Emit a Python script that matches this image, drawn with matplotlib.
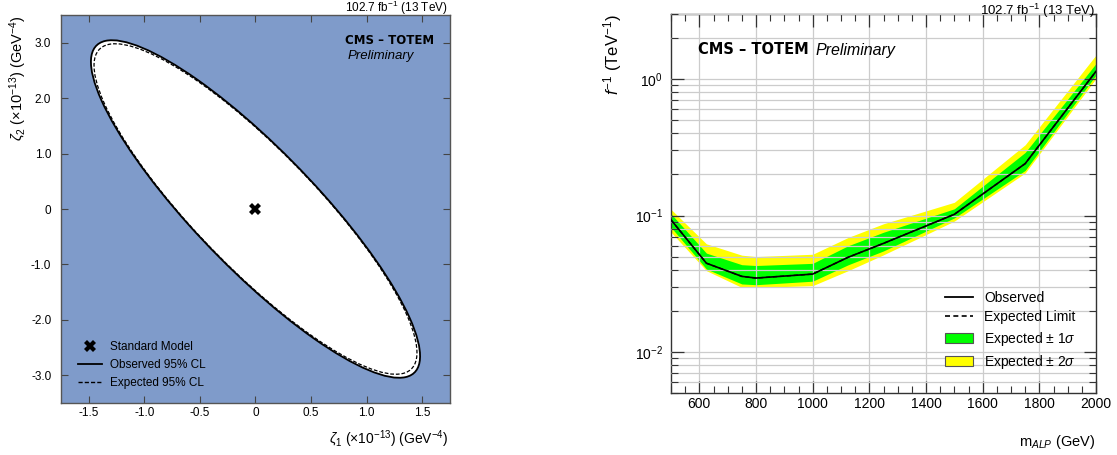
import matplotlib
matplotlib.use('Agg')
import matplotlib.pyplot as plt
from matplotlib.patches import Ellipse, Patch
from matplotlib.lines import Line2D
from matplotlib.ticker import MultipleLocator, FixedLocator, LogLocator, NullFormatter

plt.rcParams['font.family'] = ['Liberation Sans', 'DejaVu Sans']
plt.rcParams['mathtext.fontset'] = 'custom'
plt.rcParams['mathtext.rm'] = 'Liberation Sans'
plt.rcParams['mathtext.it'] = 'Liberation Sans:italic'
plt.rcParams['mathtext.bf'] = 'Liberation Sans:bold'
plt.rcParams['axes.unicode_minus'] = False

# ---------------- Left panel data: 95% CL contours (x 1e-13 GeV^-4) ----------------
sm_point = (0.0, 0.0)
obs_center = (0.0, 0.0)
obs_semi_major = 3.32
obs_semi_minor = 0.665
obs_angle_deg = 114.0
exp_center = (0.0, 0.0)
exp_semi_major = 3.25
exp_semi_minor = 0.66
exp_angle_deg = 114.0

zeta1_ticks = [-1.5, -1.0, -0.5, 0.0, 0.5, 1.0, 1.5]
zeta1_labels = ['-1.5', '-1.0', '-0.5', '0', '0.5', '1.0', '1.5']
zeta2_ticks = [-3.0, -2.0, -1.0, 0.0, 1.0, 2.0, 3.0]
zeta2_labels = ['-3.0', '-2.0', '-1.0', '0', '1.0', '2.0', '3.0']

# ---------------- Right panel data: ALP limits ----------------
m_alp = [500, 625, 750, 800, 1000, 1125, 1250, 1500, 1750, 2000]
observed = [0.093, 0.0447, 0.0358, 0.0348, 0.0372, 0.0494, 0.0625, 0.102, 0.240, 1.14]
expected = [0.093, 0.0447, 0.0358, 0.0348, 0.0372, 0.0494, 0.0625, 0.102, 0.240, 1.14]
one_sigma_lo = [0.082, 0.0405, 0.0315, 0.0311, 0.0330, 0.0435, 0.0550, 0.096, 0.214, 1.07]
one_sigma_hi = [0.103, 0.0530, 0.0436, 0.0430, 0.0446, 0.0600, 0.0754, 0.112, 0.290, 1.30]
two_sigma_lo = [0.0755, 0.0394, 0.0297, 0.0297, 0.0306, 0.0394, 0.0515, 0.091, 0.205, 1.01]
two_sigma_hi = [0.111, 0.0620, 0.0512, 0.0500, 0.0520, 0.0690, 0.0870, 0.125, 0.330, 1.50]

W, H = 1117, 455
fig = plt.figure(figsize=(W / 100, H / 100), dpi=100)

# ================= Left panel =================
ax1 = fig.add_axes([61 / W, 1 - 403 / H, 389 / W, 388 / H])
ax1.set_facecolor('#7f9bca')
ax1.set_xlim(-1.75, 1.75)
ax1.set_ylim(-3.5, 3.5)
ax1.add_patch(Ellipse(obs_center, 2 * obs_semi_major, 2 * obs_semi_minor, angle=obs_angle_deg,
                      facecolor='white', edgecolor='black', lw=1.3, zorder=2))
ax1.add_patch(Ellipse(exp_center, 2 * exp_semi_major, 2 * exp_semi_minor, angle=exp_angle_deg,
                      fill=False, edgecolor='black', lw=0.9, ls=(0, (3, 1.5)), zorder=3))
ax1.plot([sm_point[0]], [sm_point[1]], ls='none', marker='X', ms=9, color='black', mew=0, zorder=4)

ax1.xaxis.set_major_locator(FixedLocator(zeta1_ticks))
ax1.set_xticklabels(zeta1_labels)
ax1.yaxis.set_major_locator(FixedLocator(zeta2_ticks))
ax1.set_yticklabels(zeta2_labels)
ax1.tick_params(direction='in', top=True, right=True, length=5, width=0.8,
                labelsize=8.5, color='#444444')
ax1.tick_params(axis='y', pad=7)
ax1.tick_params(axis='x', pad=3)
for s in ax1.spines.values():
    s.set_color('#555555')
    s.set_linewidth(1.0)

h_sm = Line2D([], [], ls='none', marker='X', ms=9, color='black', mew=0)
h_obs = Line2D([], [], color='black', lw=1.3)
h_exp = Line2D([], [], color='black', lw=1.0, ls=(0, (3, 1.5)))
ax1.legend([h_sm, h_obs, h_exp], ['Standard Model', 'Observed 95% CL', 'Expected 95% CL'],
           loc='upper left', bbox_to_anchor=(78 / W, 1 - 341 / H), bbox_transform=fig.transFigure,
           frameon=False, fontsize=8.5, borderpad=0, borderaxespad=0, handlelength=2.0,
           handletextpad=0.7, labelspacing=0.5)

fig.text(345 / W, 1 - 41 / H, 'CMS \u2013 TOTEM', fontsize=8.5, fontweight='bold',
         family='DejaVu Sans', ha='left', va='center')
fig.text(348 / W, 1 - 56 / H, 'Preliminary', fontsize=9.5, style='italic', ha='left', va='center')
fig.text(448 / W, 1 - 8 / H, '102.7 fb$^{-1}$ (13 TeV)', fontsize=8.5, ha='right', va='center')
fig.text(449 / W, 1 - 439 / H, r'$\zeta_1$ ($\times$10$^{-13}$) (GeV$^{-4}$)', fontsize=10,
         ha='right', va='center')
fig.text(18 / W, 1 - 15 / H, r'$\zeta_2$ ($\times$10$^{-13}$) (GeV$^{-4}$)', fontsize=10.5,
         ha='center', va='top', rotation=90)

# ================= Right panel =================
ax2 = fig.add_axes([671 / W, 1 - 393 / H, 425 / W, 379 / H])
ax2.set_yscale('log')
ax2.set_xlim(500, 2000)
ax2.set_ylim(0.005, 3)
ax2.fill_between(m_alp, two_sigma_lo, two_sigma_hi, color='#ffff00', lw=0, zorder=1)
ax2.fill_between(m_alp, one_sigma_lo, one_sigma_hi, color='#00ff00', lw=0, zorder=1.2)
ax2.plot(m_alp, expected, color='black', lw=1.0, ls=(0, (3, 2)), zorder=3)
ax2.plot(m_alp, observed, color='black', lw=1.2, zorder=3.1)

ax2.xaxis.set_major_locator(MultipleLocator(200))
ax2.xaxis.set_minor_locator(MultipleLocator(50))
ax2.yaxis.set_major_locator(LogLocator(base=10, numticks=10))
ax2.yaxis.set_minor_locator(LogLocator(base=10, subs=[2, 3, 4, 5, 6, 7, 8, 9], numticks=20))
ax2.yaxis.set_minor_formatter(NullFormatter())
ax2.set_axisbelow(False)
ax2.grid(which='major', color='#cccccc', lw=0.9, zorder=2.5)
ax2.grid(which='minor', axis='y', color='#cccccc', lw=0.9, zorder=2.5)
ax2.tick_params(which='both', direction='in', top=True, right=True, color='#333333', labelsize=10)
ax2.tick_params(which='major', length=9, width=0.9)
ax2.tick_params(which='minor', length=4.8, width=0.8)
ax2.tick_params(axis='x', pad=3)
ax2.tick_params(axis='y', pad=6)
for s in ax2.spines.values():
    s.set_color('#333333')
    s.set_linewidth(1.0)

h2_obs = Line2D([], [], color='black', lw=1.3)
h2_exp = Line2D([], [], color='black', lw=1.2, ls=(0, (3, 2)))
h2_1s = Patch(facecolor='#00ff00', edgecolor='#555555', lw=0.8)
h2_2s = Patch(facecolor='#ffff00', edgecolor='#555555', lw=0.8)
ax2.legend([h2_obs, h2_exp, h2_1s, h2_2s],
           ['Observed', 'Expected Limit', r'Expected $\pm$ 1$\sigma$', r'Expected $\pm$ 2$\sigma$'],
           loc='upper left', bbox_to_anchor=(945 / W, 1 - 291 / H), bbox_transform=fig.transFigure,
           frameon=False, fontsize=10, borderpad=0, borderaxespad=0, handlelength=2.0,
           handleheight=0.7, handletextpad=0.8, labelspacing=0.38)

fig.text(698 / W, 1 - 50 / H, 'CMS \u2013 TOTEM', fontsize=10.5, fontweight='bold',
         family='DejaVu Sans', ha='left', va='center')
fig.text(816 / W, 1 - 50 / H, 'Preliminary', fontsize=11.5, style='italic', ha='left', va='center')
fig.text(1095 / W, 1 - 1.5 / H, '102.7 fb$^{-1}$ (13 TeV)', fontsize=9.5, ha='right', va='top')
fig.text(1095 / W, 1 - 442 / H, r'm$_{ALP}$ (GeV)', fontsize=10.5, ha='right', va='center')
fig.text(613 / W, 1 - 14 / H, r'$f^{-1}$ (TeV$^{-1}$)', fontsize=12, ha='center', va='top', rotation=90)

fig.savefig('out.png', dpi=100)
